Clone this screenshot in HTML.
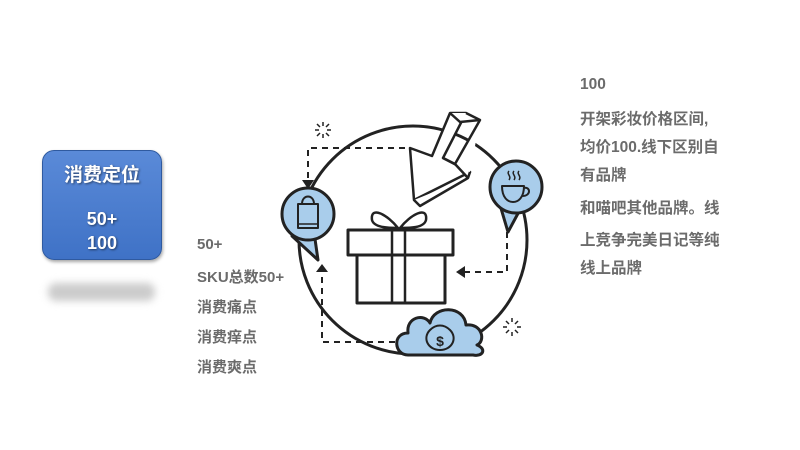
<!DOCTYPE html>
<html><head><meta charset="utf-8"><style>
body{margin:0;width:800px;height:450px;background:#fff;overflow:hidden;position:relative;font-family:"Liberation Sans","Noto Sans CJK SC",sans-serif}
.box{position:absolute;left:42px;top:150px;width:118px;height:108px;border-radius:12px;background:linear-gradient(#5a8ad8,#3f72c6);border:1px solid #2f5aa0;box-shadow:1px 2px 3px rgba(0,0,0,.35);color:#fff;font-weight:bold;text-align:center;font-size:19px;text-shadow:1px 1px 2px rgba(0,0,0,.5)}
.sh{position:absolute;left:48px;top:283px;width:107px;height:18px;background:#ccc;filter:blur(4px);border-radius:8px}
.t{position:absolute;color:#6b6b6b;font-weight:bold;font-size:15px;white-space:nowrap}
.r{font-size:15.5px}
</style></head><body>
<div class="box"><div style="margin-top:9px">消费定位</div><div style="margin-top:20px;line-height:24px;font-size:18px">50+<br>100</div></div>
<div class="sh"></div>
<div class="t" style="left:197px;top:236px">50+</div>
<div class="t" style="left:197px;top:266px">SKU总数50+</div>
<div class="t" style="left:197px;top:296px">消费痛点</div>
<div class="t" style="left:197px;top:326px">消费痒点</div>
<div class="t" style="left:197px;top:356px">消费爽点</div>
<div class="t r" style="left:580px;top:76px">100</div>
<div class="t r" style="left:580px;top:107px">开架彩妆价格区间,</div>
<div class="t r" style="left:580px;top:135px">均价100.线下区别自</div>
<div class="t r" style="left:580px;top:163px">有品牌</div>
<div class="t r" style="left:580px;top:196px">和喵吧其他品牌。线</div>
<div class="t r" style="left:580px;top:228px">上竞争完美日记等纯</div>
<div class="t r" style="left:580px;top:256px">线上品牌</div>
<svg width="800" height="450" style="position:absolute;left:0;top:0" fill="none" stroke="#222" stroke-width="3" stroke-linejoin="round">
<circle cx="413" cy="240" r="114"/>
<g stroke-width="2" stroke-dasharray="6,5">
<path d="M405 148H308V180"/><path d="M507 232V272H465"/><path d="M395 342H322V272"/>
</g>
<path d="M302 180h12l-6 9z M465 266v12l-9-6z M316 272h12l-6-8z" fill="#222" stroke="none"/>
<!-- arrow -->
<path d="M450 113L466 113L443 158L470 172L414 200L410 148L432 156Z" fill="#fff" stroke-width="2.5"/>
<path d="M450 113L460 122L480 120L466 113M480 120L455 164L468 178L470 172M468 178L420 206L414 200M455 164L443 158" fill="#fff" stroke-width="2.5"/>
<!-- gift -->
<rect x="357" y="255" width="88" height="48" fill="#fff"/>
<rect x="348" y="230" width="105" height="25" fill="#fff"/>
<path d="M392 230V303M405 230V303" stroke-width="2.5"/>
<path d="M398 228C388 215 370 205 372 220C374 228 390 228 398 228Z M400 228C410 215 428 205 426 220C424 228 410 228 400 228Z" fill="#fff" stroke-width="2.5"/>
<!-- bag bubble -->
<path d="M292 236L318 260L314 232Z" fill="#a9cdeb"/>
<circle cx="308" cy="214" r="26" fill="#a9cdeb"/>
<path d="M298 204h20v24h-20z" stroke-width="2"/><path d="M302 204c0-10 12-10 12 0" stroke-width="2"/><path d="M298 224h20" stroke-width="1.5"/>
<!-- cup bubble -->
<path d="M500 205L508 232L522 206Z" fill="#a9cdeb"/>
<circle cx="516" cy="187" r="26" fill="#a9cdeb"/>
<path d="M502 186h22c0 12-6 16-11 16s-11-4-11-16z M524 188c6-2 8 8-2 8" stroke-width="2"/>
<path d="M509 171c-3 3 3 5 0 9M514 171c-3 3 3 5 0 9M519 171c-3 3 3 5 0 9" stroke-width="1.5"/>
<!-- cloud -->
<path d="M408 355c-14 0-16-22 0-22c-2-16 16-20 22-10c4-18 34-18 36 2c16-2 20 16 11 20c10 4 6 12-4 10z" fill="#a9cdeb"/>
<path d="M430 330c6-6 14-6 20 0c8 8 2 20-10 20s-18-12-10-20z" stroke-width="2"/>
<text x="440" y="346" font-size="14" font-weight="bold" fill="#222" stroke="none" text-anchor="middle" font-family="Liberation Sans">$</text>
<g stroke-width="1.5">
<path d="M323 122v4M323 134v4M315 130h4M327 130h4M317 124l3 3M329 124l-3 3M317 136l3-3M329 136l-3-3"/>
<path d="M512 318v4M512 332v4M503 327h4M517 327h4M506 321l3 3M518 321l-3 3M506 333l3-3M518 333l-3-3"/>
</g>
</svg>
</body></html>
